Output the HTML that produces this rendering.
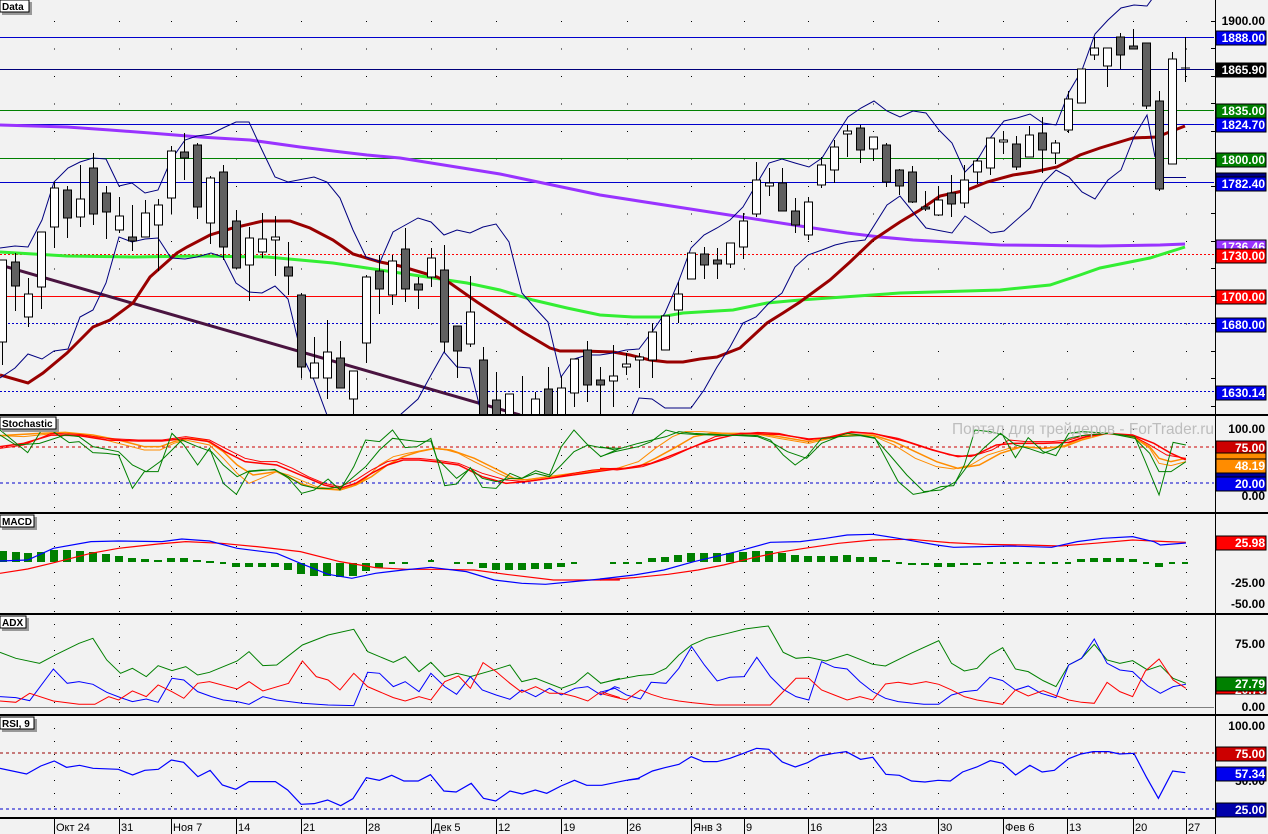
<!DOCTYPE html>
<html><head><meta charset="utf-8"><style>
html,body{margin:0;padding:0;background:#f2f2f2;}
svg{display:block;font-family:"Liberation Sans",sans-serif;}
.ns{vector-effect:non-scaling-stroke;fill:none;}
.lb{font-weight:bold;font-size:12px;fill:#fff;text-anchor:end;}
.lt{font-weight:bold;font-size:12px;fill:#000;text-anchor:end;}
.tab{font-weight:bold;font-size:10px;fill:#000;}
.dt{font-size:11px;fill:#000;}
</style></head><body>
<svg width="1268" height="834" viewBox="0 0 1268 834" xmlns="http://www.w3.org/2000/svg">
<defs>
<clipPath id="cm"><rect x="0" y="0" width="1214" height="414"/></clipPath>
<clipPath id="cs"><rect x="0" y="416" width="1214" height="96"/></clipPath>
<clipPath id="cd"><rect x="0" y="514" width="1214" height="99"/></clipPath>
<clipPath id="ca"><rect x="0" y="615" width="1214" height="97"/></clipPath>
<clipPath id="cr"><rect x="0" y="716" width="1214" height="101"/></clipPath>
</defs>
<rect width="1268" height="834" fill="#f2f2f2"/>

<g stroke="#000" stroke-width="1" stroke-dasharray="1 26.5">
<line x1="54.5" y1="-6.5" x2="54.5" y2="414"/><line x1="119.5" y1="-6.5" x2="119.5" y2="414"/><line x1="171.5" y1="-6.5" x2="171.5" y2="414"/><line x1="236.5" y1="-6.5" x2="236.5" y2="414"/><line x1="301.5" y1="-6.5" x2="301.5" y2="414"/><line x1="366.5" y1="-6.5" x2="366.5" y2="414"/><line x1="431.5" y1="-6.5" x2="431.5" y2="414"/><line x1="496.5" y1="-6.5" x2="496.5" y2="414"/><line x1="561.5" y1="-6.5" x2="561.5" y2="414"/><line x1="627.5" y1="-6.5" x2="627.5" y2="414"/><line x1="691.5" y1="-6.5" x2="691.5" y2="414"/><line x1="744.5" y1="-6.5" x2="744.5" y2="414"/><line x1="808.5" y1="-6.5" x2="808.5" y2="414"/><line x1="873.5" y1="-6.5" x2="873.5" y2="414"/><line x1="938.5" y1="-6.5" x2="938.5" y2="414"/><line x1="1003.5" y1="-6.5" x2="1003.5" y2="414"/><line x1="1067.5" y1="-6.5" x2="1067.5" y2="414"/><line x1="1133.5" y1="-6.5" x2="1133.5" y2="414"/><line x1="1186.5" y1="-6.5" x2="1186.5" y2="414"/>
</g>
<g stroke="#000" stroke-width="1" stroke-dasharray="1 12">
<line x1="54.5" y1="429" x2="54.5" y2="818"/><line x1="119.5" y1="429" x2="119.5" y2="818"/><line x1="171.5" y1="429" x2="171.5" y2="818"/><line x1="236.5" y1="429" x2="236.5" y2="818"/><line x1="301.5" y1="429" x2="301.5" y2="818"/><line x1="366.5" y1="429" x2="366.5" y2="818"/><line x1="431.5" y1="429" x2="431.5" y2="818"/><line x1="496.5" y1="429" x2="496.5" y2="818"/><line x1="561.5" y1="429" x2="561.5" y2="818"/><line x1="627.5" y1="429" x2="627.5" y2="818"/><line x1="691.5" y1="429" x2="691.5" y2="818"/><line x1="744.5" y1="429" x2="744.5" y2="818"/><line x1="808.5" y1="429" x2="808.5" y2="818"/><line x1="873.5" y1="429" x2="873.5" y2="818"/><line x1="938.5" y1="429" x2="938.5" y2="818"/><line x1="1003.5" y1="429" x2="1003.5" y2="818"/><line x1="1067.5" y1="429" x2="1067.5" y2="818"/><line x1="1133.5" y1="429" x2="1133.5" y2="818"/><line x1="1186.5" y1="429" x2="1186.5" y2="818"/>
</g>

<g clip-path="url(#cm)">
<line x1="0" y1="37.5" x2="1214" y2="37.5" stroke="#0000cc"/>
<line x1="0" y1="69.5" x2="1214" y2="69.5" stroke="#00007a"/>
<line x1="0" y1="110.5" x2="1214" y2="110.5" stroke="#008000"/>
<line x1="0" y1="124.5" x2="1214" y2="124.5" stroke="#0000cc"/>
<line x1="0" y1="158.5" x2="1214" y2="158.5" stroke="#008000"/>
<line x1="0" y1="182.5" x2="1214" y2="182.5" stroke="#0000cc"/>
<line x1="0" y1="254.5" x2="1214" y2="254.5" stroke="#ff0000" stroke-dasharray="2 2"/>
<line x1="0" y1="296.5" x2="1214" y2="296.5" stroke="#ff0000"/>
<line x1="0" y1="323.5" x2="1214" y2="323.5" stroke="#0000cc" stroke-dasharray="2 2"/>
<line x1="0" y1="391.5" x2="1214" y2="391.5" stroke="#0000cc" stroke-dasharray="2 2"/>
<line x1="1163" y1="177.5" x2="1186" y2="177.5" stroke="#000080"/>

<polyline fill="none" stroke="#9933ff" stroke-width="3" points="0,125 67,127 110,130 150,133 200,137 250,140 300,147 333,151 367,155 400,158 500,174 600,195 800,226 813,228 847,233 880,237 913,240 1000,245 1100,246 1160,245 1185,244"/>
<polyline fill="none" stroke="#33ee33" stroke-width="3" points="0,252 67,256 133,257 200,256 267,257 300,260 333,263 367,268 400,273 467,283 500,290 533,300 567,308 600,315 633,317 660,317 683,313 733,310 767,303 800,300 900,293 1000,290 1050,285 1080,275 1100,268 1150,258 1185,247"/>
<polyline fill="none" stroke="#4a1440" stroke-width="3" points="0,265 520,415"/>
<polyline fill="none" stroke="#990000" stroke-width="3" points="0,375 28,383 43,373 67,353 93,327 110,320 133,303 150,277 177,253 187,247 210,235 233,228 263,221 290,221 310,228 333,240 353,254 380,262 400,266 437,277 450,283 477,302 500,317 523,332 550,348 560,351 583,351 613,352 630,355 650,360 667,362 683,362 700,359 717,357 740,348 767,323 783,313 800,302 830,280 850,262 873,240 900,222 920,210 940,196 967,190 987,182 1013,175 1033,172 1057,167 1080,155 1100,148 1133,138 1157,137 1167,133 1185,126"/>
<polyline fill="none" stroke="#000080" stroke-width="1" points="0,248 15,246 28,247 42,220 54,182 68,168 80,162 93,158 106,159 119,186 132,183 145,193 158,190 171,160 185,140 197,136 211,134 223,128 236,122 249,122 262,150 275,177 288,182 314,177 327,182 340,198 353,230 366,257 380,262 393,232 400,228 418,218 431,222 444,235 457,230 470,233 483,227 496,224 509,242 522,293 535,308 548,322 561,377 574,359 587,355 600,355 613,353 626,350 639,349 652,332 665,313 678,283 691,248 704,235 717,228 730,220 743,207 756,185 769,163 782,159 795,163 809,167 822,158 835,137 848,117 861,108 874,101 887,111 900,117 913,111 926,113 939,130 952,143 965,172 978,159 991,137 1004,121 1017,118 1030,114 1043,123 1056,125 1069,92 1082,70 1095,34 1108,20 1121,8 1134,5 1147,6 1155,-5"/>
<polyline fill="none" stroke="#000080" stroke-width="1" points="0,378 15,368 28,354 42,359 54,351 68,349 80,317 93,310 106,283 119,237 132,242 145,239 158,238 171,258 185,259 197,257 211,253 223,257 236,283 249,292 262,293 275,286 288,299 301,353 314,380 327,415 340,440 390,440 400,415 418,399 431,375 444,352 457,367 470,368 483,420 500,450 620,450 630,420 639,398 652,399 665,408 678,408 691,408 704,390 717,367 730,347 743,323 756,317 769,303 782,293 795,267 808,255 822,250 835,245 848,242 865,240 887,205 900,196 917,217 926,228 952,233 965,216 991,233 1004,231 1030,208 1043,183 1056,170 1069,177 1082,192 1095,199 1108,180 1121,170 1134,137 1147,115 1155,157"/>

<g stroke="#000" stroke-width="1">
<line x1="2.5" y1="260" x2="2.5" y2="365"/><rect x="-1.5" y="260" width="8" height="82" fill="#fff"/>
<line x1="15.5" y1="253" x2="15.5" y2="311"/><rect x="11.5" y="262" width="8" height="24" fill="#606060"/>
<line x1="28.5" y1="278" x2="28.5" y2="327"/><rect x="24.5" y="294" width="8" height="23" fill="#fff"/>
<line x1="41.5" y1="232" x2="41.5" y2="309"/><rect x="37.5" y="232" width="8" height="55" fill="#fff"/>
<line x1="54.5" y1="182" x2="54.5" y2="248"/><rect x="50.5" y="188" width="8" height="39" fill="#fff"/>
<line x1="67.5" y1="186" x2="67.5" y2="238"/><rect x="63.5" y="190" width="8" height="28" fill="#606060"/>
<line x1="80.5" y1="165" x2="80.5" y2="227"/><rect x="76.5" y="199" width="8" height="18" fill="#fff"/>
<line x1="93.5" y1="153" x2="93.5" y2="225"/><rect x="89.5" y="168" width="8" height="46" fill="#606060"/>
<line x1="106.5" y1="186" x2="106.5" y2="239"/><rect x="102.5" y="193" width="8" height="19" fill="#606060"/>
<line x1="119.5" y1="197" x2="119.5" y2="233"/><rect x="115.5" y="216" width="8" height="14" fill="#fff"/>
<line x1="132.5" y1="205" x2="132.5" y2="251"/><rect x="128.5" y="237" width="8" height="4" fill="#606060"/>
<line x1="145.5" y1="200" x2="145.5" y2="237"/><rect x="141.5" y="213" width="8" height="24" fill="#fff"/>
<line x1="158.5" y1="199" x2="158.5" y2="271"/><rect x="154.5" y="205" width="8" height="20" fill="#fff"/>
<line x1="171.5" y1="146" x2="171.5" y2="214"/><rect x="167.5" y="151" width="8" height="47" fill="#fff"/>
<line x1="184.5" y1="133" x2="184.5" y2="180"/><rect x="180.5" y="152" width="8" height="6" fill="#606060"/>
<line x1="197.5" y1="143" x2="197.5" y2="219"/><rect x="193.5" y="145" width="8" height="62" fill="#606060"/>
<line x1="210.5" y1="176" x2="210.5" y2="244"/><rect x="206.5" y="178" width="8" height="45" fill="#fff"/>
<line x1="223.5" y1="165" x2="223.5" y2="260"/><rect x="219.5" y="172" width="8" height="75" fill="#606060"/>
<line x1="236.5" y1="210" x2="236.5" y2="268"/><rect x="232.5" y="221" width="8" height="47" fill="#606060"/>
<line x1="249.5" y1="227" x2="249.5" y2="301"/><rect x="245.5" y="238" width="8" height="27" fill="#fff"/>
<line x1="262.5" y1="213" x2="262.5" y2="258"/><rect x="258.5" y="239" width="8" height="13" fill="#fff"/>
<line x1="275.5" y1="216" x2="275.5" y2="276"/><rect x="271.5" y="237" width="8" height="3" fill="#fff"/>
<line x1="288.5" y1="242" x2="288.5" y2="295"/><rect x="284.5" y="267" width="8" height="9" fill="#606060"/>
<line x1="301.5" y1="293" x2="301.5" y2="378"/><rect x="297.5" y="295" width="8" height="72" fill="#606060"/>
<line x1="314.5" y1="337" x2="314.5" y2="378"/><rect x="310.5" y="363" width="8" height="15" fill="#fff"/>
<line x1="327.5" y1="320" x2="327.5" y2="399"/><rect x="323.5" y="352" width="8" height="26" fill="#fff"/>
<line x1="340.5" y1="341" x2="340.5" y2="388"/><rect x="336.5" y="358" width="8" height="30" fill="#606060"/>
<line x1="353.5" y1="371" x2="353.5" y2="415"/><rect x="349.5" y="371" width="8" height="28" fill="#fff"/>
<line x1="366.5" y1="275" x2="366.5" y2="363"/><rect x="362.5" y="277" width="8" height="66" fill="#fff"/>
<line x1="379.5" y1="255" x2="379.5" y2="314"/><rect x="375.5" y="271" width="8" height="18" fill="#606060"/>
<line x1="392.5" y1="255" x2="392.5" y2="305"/><rect x="388.5" y="261" width="8" height="34" fill="#fff"/>
<line x1="405.5" y1="228" x2="405.5" y2="302"/><rect x="401.5" y="249" width="8" height="40" fill="#606060"/>
<line x1="418.5" y1="277" x2="418.5" y2="309"/><rect x="414.5" y="284" width="8" height="6" fill="#606060"/>
<line x1="431.5" y1="248" x2="431.5" y2="287"/><rect x="427.5" y="258" width="8" height="19" fill="#fff"/>
<line x1="444.5" y1="245" x2="444.5" y2="352"/><rect x="440.5" y="270" width="8" height="72" fill="#606060"/>
<line x1="457.5" y1="326" x2="457.5" y2="378"/><rect x="453.5" y="326" width="8" height="25" fill="#606060"/>
<line x1="470.5" y1="276" x2="470.5" y2="347"/><rect x="466.5" y="312" width="8" height="32" fill="#fff"/>
<line x1="483.5" y1="347" x2="483.5" y2="420"/><rect x="479.5" y="360" width="8" height="60" fill="#606060"/>
<line x1="496.5" y1="372" x2="496.5" y2="420"/><rect x="492.5" y="400" width="8" height="20" fill="#606060"/>
<line x1="509.5" y1="394" x2="509.5" y2="420"/><rect x="505.5" y="394" width="8" height="26" fill="#fff"/>
<line x1="522.5" y1="376" x2="522.5" y2="420"/>
<line x1="535.5" y1="392" x2="535.5" y2="420"/><rect x="531.5" y="399" width="8" height="21" fill="#fff"/>
<line x1="548.5" y1="367" x2="548.5" y2="420"/><rect x="544.5" y="389" width="8" height="31" fill="#606060"/>
<line x1="561.5" y1="376" x2="561.5" y2="420"/><rect x="557.5" y="388" width="8" height="32" fill="#fff"/>
<line x1="574.5" y1="359" x2="574.5" y2="407"/><rect x="570.5" y="359" width="8" height="34" fill="#fff"/>
<line x1="587.5" y1="341" x2="587.5" y2="402"/><rect x="583.5" y="350" width="8" height="35" fill="#606060"/>
<line x1="600.5" y1="367" x2="600.5" y2="417"/><rect x="596.5" y="380" width="8" height="5" fill="#606060"/>
<line x1="613.5" y1="345" x2="613.5" y2="407"/><rect x="609.5" y="376" width="8" height="5" fill="#fff"/>
<line x1="626.5" y1="353" x2="626.5" y2="375"/><rect x="622.5" y="364" width="8" height="3" fill="#fff"/>
<line x1="639.5" y1="353" x2="639.5" y2="388"/><rect x="635.5" y="357" width="8" height="3" fill="#fff"/>
<line x1="652.5" y1="323" x2="652.5" y2="378"/><rect x="648.5" y="332" width="8" height="28" fill="#fff"/>
<line x1="665.5" y1="316" x2="665.5" y2="350"/><rect x="661.5" y="316" width="8" height="34" fill="#fff"/>
<line x1="678.5" y1="282" x2="678.5" y2="323"/><rect x="674.5" y="294" width="8" height="16" fill="#fff"/>
<line x1="691.5" y1="253" x2="691.5" y2="279"/><rect x="687.5" y="253" width="8" height="26" fill="#fff"/>
<line x1="704.5" y1="247" x2="704.5" y2="279"/><rect x="700.5" y="254" width="8" height="11" fill="#606060"/>
<line x1="717.5" y1="248" x2="717.5" y2="279"/><rect x="713.5" y="260" width="8" height="4" fill="#606060"/>
<line x1="730.5" y1="243" x2="730.5" y2="268"/><rect x="726.5" y="243" width="8" height="21" fill="#fff"/>
<line x1="743.5" y1="213" x2="743.5" y2="259"/><rect x="739.5" y="221" width="8" height="26" fill="#fff"/>
<line x1="756.5" y1="162" x2="756.5" y2="217"/><rect x="752.5" y="180" width="8" height="34" fill="#fff"/>
<line x1="769.5" y1="168" x2="769.5" y2="196"/><rect x="765.5" y="183" width="8" height="3" fill="#fff"/>
<line x1="782.5" y1="168" x2="782.5" y2="211"/><rect x="778.5" y="183" width="8" height="28" fill="#606060"/>
<line x1="795.5" y1="198" x2="795.5" y2="233"/><rect x="791.5" y="211" width="8" height="14" fill="#606060"/>
<line x1="808.5" y1="197" x2="808.5" y2="240"/><rect x="804.5" y="202" width="8" height="33" fill="#fff"/>
<line x1="821.5" y1="157" x2="821.5" y2="188"/><rect x="817.5" y="165" width="8" height="20" fill="#fff"/>
<line x1="834.5" y1="140" x2="834.5" y2="183"/><rect x="830.5" y="147" width="8" height="23" fill="#fff"/>
<line x1="847.5" y1="125" x2="847.5" y2="157"/><rect x="843.5" y="131" width="8" height="3" fill="#fff"/>
<line x1="860.5" y1="125" x2="860.5" y2="163"/><rect x="856.5" y="128" width="8" height="22" fill="#606060"/>
<line x1="873.5" y1="137" x2="873.5" y2="161"/><rect x="869.5" y="137" width="8" height="12" fill="#fff"/>
<line x1="886.5" y1="143" x2="886.5" y2="187"/><rect x="882.5" y="145" width="8" height="37" fill="#606060"/>
<line x1="899.5" y1="169" x2="899.5" y2="195"/><rect x="895.5" y="170" width="8" height="16" fill="#606060"/>
<line x1="912.5" y1="166" x2="912.5" y2="203"/><rect x="908.5" y="172" width="8" height="30" fill="#606060"/>
<line x1="925.5" y1="191" x2="925.5" y2="211"/><rect x="921.5" y="207" width="8" height="2" fill="#606060"/>
<line x1="938.5" y1="186" x2="938.5" y2="216"/><rect x="934.5" y="200" width="8" height="15" fill="#fff"/>
<line x1="951.5" y1="175" x2="951.5" y2="217"/><rect x="947.5" y="193" width="8" height="11" fill="#606060"/>
<line x1="964.5" y1="165" x2="964.5" y2="208"/><rect x="960.5" y="180" width="8" height="23" fill="#fff"/>
<line x1="977.5" y1="158" x2="977.5" y2="184"/><rect x="973.5" y="161" width="8" height="11" fill="#fff"/>
<line x1="990.5" y1="138" x2="990.5" y2="175"/><rect x="986.5" y="138" width="8" height="30" fill="#fff"/>
<line x1="1003.5" y1="131" x2="1003.5" y2="154"/><rect x="999.5" y="140" width="8" height="2" fill="#fff"/>
<line x1="1016.5" y1="136" x2="1016.5" y2="170"/><rect x="1012.5" y="144" width="8" height="23" fill="#606060"/>
<line x1="1029.5" y1="126" x2="1029.5" y2="157"/><rect x="1025.5" y="135" width="8" height="22" fill="#fff"/>
<line x1="1042.5" y1="117" x2="1042.5" y2="173"/><rect x="1038.5" y="133" width="8" height="17" fill="#606060"/>
<line x1="1055.5" y1="140" x2="1055.5" y2="164"/><rect x="1051.5" y="143" width="8" height="10" fill="#fff"/>
<line x1="1068.5" y1="91" x2="1068.5" y2="133"/><rect x="1064.5" y="99" width="8" height="31" fill="#fff"/>
<line x1="1081.5" y1="69" x2="1081.5" y2="103"/><rect x="1077.5" y="69" width="8" height="34" fill="#fff"/>
<line x1="1094.5" y1="37" x2="1094.5" y2="60"/><rect x="1090.5" y="48" width="8" height="7" fill="#fff"/>
<line x1="1107.5" y1="48" x2="1107.5" y2="87"/><rect x="1103.5" y="48" width="8" height="18" fill="#fff"/>
<line x1="1120.5" y1="33" x2="1120.5" y2="69"/><rect x="1116.5" y="37" width="8" height="18" fill="#606060"/>
<line x1="1133.5" y1="29" x2="1133.5" y2="49"/><rect x="1129.5" y="46" width="8" height="3" fill="#606060"/>
<line x1="1146.5" y1="43" x2="1146.5" y2="109"/><rect x="1142.5" y="43" width="8" height="63" fill="#606060"/>
<line x1="1159.5" y1="91" x2="1159.5" y2="191"/><rect x="1155.5" y="101" width="8" height="88" fill="#606060"/>
<line x1="1172.5" y1="52" x2="1172.5" y2="164"/><rect x="1168.5" y="59" width="8" height="105" fill="#fff"/>
<line x1="1185.5" y1="37" x2="1185.5" y2="82"/><line x1="1181" y1="68" x2="1190" y2="68"/>
</g>
</g>

<g clip-path="url(#cs)">
<line x1="0" y1="447" x2="1214" y2="447" stroke="#cc0000" stroke-dasharray="3 3"/>
<line x1="0" y1="483" x2="1214" y2="483" stroke="#0000cc" stroke-dasharray="3 3"/>
<g transform="translate(0,415) scale(0.3953 0.3333)">
<polyline class="ns" stroke="#ff8c00" stroke-width="1" points="0,62 60,65 165,52 235,65 300,85 365,105 405,105 440,85 470,75 530,90 565,130 600,175 630,205 670,185 700,170 730,180 770,200 800,215 860,225 890,215 925,190 960,150 995,125 1030,115 1095,100 1130,105 1160,115 1200,140 1260,175 1290,190 1325,195 1390,185 1450,175 1500,165 1568,160"/>
<polyline class="ns" stroke="#ff8c00" stroke-width="1.5" points="0,62 100,55 165,52 235,60 300,75 365,95 405,95 440,80 475,70 520,75 565,110 600,150 640,180 700,170 760,205 800,220 860,225 900,210 940,185 980,150 1020,125 1060,110 1100,100 1140,105 1200,130 1260,165 1300,190 1330,195 1390,185 1450,175 1568,160"/>
<polyline class="ns" stroke="#ff0000" stroke-width="1" points="0,100 60,90 130,55 200,58 270,70 350,75 410,75 470,65 530,75 570,100 620,130 660,140 700,140 740,160 780,185 820,205 860,215 900,195 940,165 980,140 1020,130 1060,130 1100,135 1160,145 1220,175 1280,195 1330,200 1390,190 1450,175 1500,165 1568,160"/>
<polyline class="ns" stroke="#ff0000" stroke-width="1.5" points="0,95 60,85 130,60 200,62 270,75 350,78 410,78 470,70 530,80 570,110 620,140 700,150 760,180 820,210 860,220 900,205 940,175 980,150 1020,135 1060,135 1100,140 1160,150 1220,185 1280,205 1330,200 1568,160"/>
<polyline class="ns" stroke="#008000" stroke-width="1" points="0,60 40,90 100,85 165,60 200,65 235,95 300,110 335,150 370,170 405,140 435,105 460,75 500,95 535,110 565,150 600,185 630,168 660,165 695,165 730,185 763,210 800,220 830,220 865,215 895,185 925,155 960,105 993,70 1025,75 1060,80 1090,78 1105,130 1155,190 1190,160 1220,190 1255,200 1290,190 1320,190 1355,175 1390,185 1420,150 1452,110 1487,90 1520,98 1568,100"/>
<polyline class="ns" stroke="#008000" stroke-width="1" points="0,45 70,113 105,45 135,50 175,83 200,80 235,113 270,115 300,120 335,220 365,170 400,170 435,55 465,90 500,150 530,100 565,205 598,238 630,170 695,163 730,190 763,235 795,225 830,192 860,225 895,155 925,75 960,80 993,45 1025,98 1055,95 1090,70 1125,212 1155,207 1190,158 1220,217 1255,220 1290,175 1320,190 1355,167 1390,180 1420,95 1452,45 1487,90 1520,125 1568,100"/>
</g>
<g transform="translate(600,415) scale(0.4261 0.3333)">
<polyline class="ns" stroke="#ff8c00" stroke-width="1" points="0,165 40,160 90,140 130,100 170,65 200,50 240,50 300,55 370,58 420,70 490,85 540,70 580,60 640,62 690,90 740,130 790,155 830,162 870,150 910,120 960,100 1000,95 1040,100 1090,92 1130,70 1190,55 1250,65 1290,100 1312,145 1340,152 1375,140"/>
<polyline class="ns" stroke="#ff8c00" stroke-width="1.5" points="0,160 40,162 90,155 130,130 180,95 220,65 260,55 300,55 370,55 420,65 490,80 540,68 590,60 640,60 690,80 740,110 790,140 840,160 890,150 940,115 990,95 1040,100 1090,95 1130,75 1190,55 1250,65 1290,95 1312,130 1340,140 1375,130"/>
<polyline class="ns" stroke="#ff0000" stroke-width="1" points="0,160 40,165 100,155 160,130 220,95 270,65 300,60 370,52 420,55 490,75 540,65 590,50 640,55 700,70 760,95 820,120 870,125 920,105 960,75 1000,80 1060,80 1100,75 1140,60 1190,55 1250,62 1290,90 1330,120 1375,130"/>
<polyline class="ns" stroke="#ff0000" stroke-width="1.5" points="0,162 60,160 120,145 180,115 240,85 280,70 330,55 420,58 490,72 540,68 590,52 640,55 720,80 780,105 840,125 880,120 930,90 970,85 1040,85 1100,82 1140,65 1190,55 1250,60 1300,85 1340,115 1375,135"/>
<polyline class="ns" stroke="#008000" stroke-width="1" points="0,95 35,105 90,85 155,65 185,50 220,55 300,60 370,65 400,80 440,110 485,130 520,85 560,65 610,62 645,70 680,120 720,180 760,230 800,225 835,200 870,140 900,100 940,55 975,90 1005,100 1040,115 1070,100 1100,70 1130,62 1195,55 1255,70 1290,115 1312,170 1340,170 1375,140"/>
<polyline class="ns" stroke="#008000" stroke-width="1" points="0,125 35,110 90,95 120,80 155,45 185,55 220,58 260,60 300,62 335,60 370,62 400,75 430,120 458,150 485,125 520,70 550,68 580,55 610,60 645,68 700,200 735,238 770,230 800,215 830,212 855,150 880,45 915,50 945,60 975,128 1005,68 1040,110 1070,122 1100,55 1130,50 1160,52 1195,55 1225,60 1255,65 1280,140 1312,240 1345,82 1375,90"/>
</g>
</g>
<text x="952" y="434" font-size="16" fill="#bdbdbd" textLength="262" lengthAdjust="spacingAndGlyphs" font-family="Liberation Sans, sans-serif">Портал для трейдеров - ForTrader.ru</text>

<g clip-path="url(#cd)">
<g fill="#008000">
<rect x="-1" y="551" width="8" height="11"/><rect x="12" y="552" width="8" height="10"/><rect x="24" y="553" width="8" height="9"/><rect x="37" y="552" width="8" height="10"/><rect x="50" y="550" width="8" height="12"/><rect x="63" y="550" width="8" height="12"/><rect x="76" y="551" width="8" height="11"/><rect x="89" y="552" width="8" height="10"/><rect x="102" y="554" width="8" height="8"/><rect x="115" y="556" width="8" height="6"/><rect x="128" y="558" width="8" height="4"/><rect x="141" y="559" width="8" height="3"/><rect x="154" y="560" width="8" height="2"/><rect x="167" y="558" width="8" height="4"/><rect x="180" y="558" width="8" height="4"/><rect x="193" y="560" width="8" height="2"/><rect x="206" y="561" width="8" height="2"/><rect x="220" y="562" width="6" height="2"/>
<rect x="232" y="563" width="8" height="4"/><rect x="245" y="563" width="8" height="4"/><rect x="258" y="563" width="8" height="4"/><rect x="271" y="563" width="8" height="4"/><rect x="284" y="563" width="8" height="7"/><rect x="297" y="563" width="8" height="11"/><rect x="310" y="563" width="8" height="13"/><rect x="323" y="563" width="8" height="13"/><rect x="336" y="563" width="8" height="14"/><rect x="349" y="563" width="8" height="13"/><rect x="362" y="563" width="8" height="8"/><rect x="375" y="563" width="8" height="5"/>
<rect x="389" y="562" width="6" height="2"/><rect x="402" y="562" width="6" height="2"/><rect x="428" y="560" width="6" height="2"/><rect x="454" y="562" width="6" height="2"/><rect x="467" y="562" width="6" height="2"/>
<rect x="479" y="563" width="8" height="5"/><rect x="492" y="563" width="8" height="7"/><rect x="505" y="563" width="8" height="7"/><rect x="518" y="563" width="8" height="7"/><rect x="531" y="563" width="8" height="6"/><rect x="544" y="563" width="8" height="6"/><rect x="557" y="563" width="8" height="4"/>
<rect x="571" y="562" width="6" height="2"/><rect x="610" y="562" width="6" height="2"/><rect x="623" y="562" width="6" height="2"/><rect x="636" y="562" width="6" height="2"/>
<rect x="648" y="558" width="8" height="4"/><rect x="661" y="557" width="8" height="5"/><rect x="674" y="555" width="8" height="7"/><rect x="687" y="553" width="8" height="9"/><rect x="700" y="553" width="8" height="9"/><rect x="713" y="553" width="8" height="9"/><rect x="726" y="553" width="8" height="9"/><rect x="739" y="552" width="8" height="10"/><rect x="752" y="551" width="8" height="11"/><rect x="765" y="551" width="8" height="11"/><rect x="778" y="553" width="8" height="9"/><rect x="791" y="555" width="8" height="7"/><rect x="804" y="556" width="8" height="6"/><rect x="817" y="556" width="8" height="6"/><rect x="830" y="556" width="8" height="6"/><rect x="843" y="555" width="8" height="7"/><rect x="856" y="557" width="8" height="5"/><rect x="869" y="557" width="8" height="5"/><rect x="882" y="560" width="8" height="2"/>
<rect x="896" y="562" width="6" height="2"/><rect x="908" y="563" width="8" height="2"/><rect x="921" y="563" width="8" height="2"/><rect x="934" y="563" width="8" height="4"/><rect x="947" y="563" width="8" height="4"/><rect x="960" y="563" width="8" height="2"/><rect x="973" y="563" width="8" height="2"/>
<rect x="987" y="562" width="6" height="2"/><rect x="1000" y="562" width="6" height="2"/><rect x="1013" y="562" width="6" height="2"/><rect x="1026" y="562" width="6" height="2"/><rect x="1039" y="562" width="6" height="2"/><rect x="1052" y="562" width="6" height="2"/><rect x="1065" y="562" width="6" height="2"/>
<rect x="1077" y="559" width="8" height="3"/><rect x="1090" y="558" width="8" height="4"/><rect x="1103" y="558" width="8" height="4"/><rect x="1116" y="558" width="8" height="4"/><rect x="1129" y="559" width="8" height="3"/><rect x="1143" y="562" width="6" height="2"/><rect x="1155" y="563" width="8" height="4"/><rect x="1169" y="562" width="6" height="2"/><rect x="1182" y="562" width="6" height="2"/>
</g>
<g transform="translate(0,415) scale(0.3953 0.3333)">
<polyline class="ns" stroke="#ff0000" stroke-width="1.2" points="0,475 70,462 130,445 230,415 300,400 400,387 470,380 560,385 650,395 760,410 860,440 950,458 1030,463 1110,463 1200,465 1280,478 1400,495 1568,495"/>
<polyline class="ns" stroke="#0000ff" stroke-width="1.2" points="0,438 70,435 135,400 230,380 300,378 410,380 460,372 530,378 600,400 700,415 760,445 830,478 890,490 950,475 1020,465 1090,457 1180,470 1250,495 1320,505 1380,508 1450,500 1520,492 1568,492"/>
</g>
<g transform="translate(600,415) scale(0.4261 0.3333)">
<polyline class="ns" stroke="#ff0000" stroke-width="1.2" points="0,495 80,488 160,478 230,465 290,450 360,428 420,412 480,400 560,385 640,375 730,373 820,383 900,388 1000,390 1080,393 1160,385 1250,375 1330,380 1375,382"/>
<polyline class="ns" stroke="#0000ff" stroke-width="1.2" points="0,492 80,480 150,465 220,440 280,422 320,410 400,382 470,380 530,370 580,360 640,358 700,370 790,390 830,397 900,395 960,393 1060,397 1120,380 1180,370 1250,365 1300,380 1315,390 1375,384"/>
</g>
</g>

<g clip-path="url(#ca)">
<line x1="0" y1="707.5" x2="1214" y2="707.5" stroke="#808080"/>
<g transform="translate(0,415) scale(0.3953 0.3333)">
<polyline class="ns" stroke="#008000" stroke-width="1" points="0,712 40,730 100,745 140,720 200,685 235,670 270,735 305,775 335,760 370,785 400,752 435,767 470,755 500,780 530,772 600,738 630,710 665,752 700,750 765,690 830,660 895,643 930,710 995,742 1025,725 1060,770 1090,742 1125,785 1155,775 1190,785 1255,763 1290,750 1320,800 1355,790 1420,820 1455,805 1487,773 1520,805 1568,790"/>
<polyline class="ns" stroke="#0000ff" stroke-width="1" points="0,845 40,848 75,857 135,762 170,805 200,800 235,808 270,832 305,848 335,860 370,852 400,862 435,790 465,795 500,830 535,845 565,855 600,860 630,868 665,845 700,855 765,865 830,870 895,872 930,772 960,775 995,815 1025,800 1060,830 1090,775 1125,815 1155,838 1190,785 1220,825 1255,840 1290,853 1320,825 1355,845 1390,820 1420,840 1455,820 1487,815 1520,840 1555,815 1568,820"/>
<polyline class="ns" stroke="#ff0000" stroke-width="1" points="0,858 40,862 75,835 135,858 200,868 240,868 275,845 300,855 335,828 370,845 400,810 435,830 465,850 500,805 530,800 600,822 630,800 665,828 730,805 765,738 800,785 830,795 860,825 895,775 930,815 995,848 1025,858 1060,845 1090,855 1125,800 1160,783 1190,820 1222,743 1255,770 1290,805 1320,832 1355,815 1390,835 1420,835 1455,845 1487,858 1520,830 1568,848"/>
</g>
<g transform="translate(600,415) scale(0.4261 0.3333)">
<polyline class="ns" stroke="#008000" stroke-width="1" points="0,805 35,795 90,782 125,778 155,760 185,720 215,690 250,670 300,655 340,642 395,633 430,712 460,730 490,727 530,738 580,718 640,748 670,753 730,715 795,677 825,745 855,768 885,760 915,720 945,698 975,762 1005,770 1040,797 1070,815 1100,750 1130,730 1160,688 1190,735 1220,745 1250,737 1285,765 1315,752 1345,790 1375,805"/>
<polyline class="ns" stroke="#0000ff" stroke-width="1" points="0,832 35,820 62,840 95,852 120,802 155,805 185,760 215,695 245,750 275,798 305,787 338,785 368,727 400,785 430,823 460,845 490,855 520,740 550,757 580,762 610,800 640,830 670,850 700,860 760,868 795,868 825,840 855,830 885,826 915,787 945,797 975,825 1005,813 1035,835 1070,848 1100,750 1130,730 1160,672 1190,745 1220,765 1250,770 1285,812 1315,835 1345,815 1375,808"/>
<polyline class="ns" stroke="#ff0000" stroke-width="1" points="0,835 30,845 62,855 95,825 120,838 150,850 185,858 215,863 270,870 400,870 430,830 460,790 490,790 520,825 550,840 580,855 610,845 640,855 670,807 700,802 730,808 765,800 795,808 825,825 855,845 885,855 945,868 975,825 1005,843 1040,827 1070,842 1100,855 1130,862 1160,865 1190,802 1220,830 1250,845 1280,768 1312,732 1345,795 1375,820"/>
</g>
</g>

<g clip-path="url(#cr)">
<line x1="0" y1="753" x2="1214" y2="753" stroke="#990000" stroke-dasharray="3 3"/>
<line x1="0" y1="809" x2="1214" y2="809" stroke="#0000cc" stroke-dasharray="3 3"/>
<g transform="translate(0,700) scale(0.408 0.3333)">
<polyline class="ns" stroke="#0000ff" stroke-width="1.2" points="0,205 65,222 100,198 133,183 163,202 195,196 228,205 290,208 325,225 355,211 388,208 420,180 450,187 485,230 515,211 545,255 578,268 610,245 675,245 705,270 738,313 770,311 803,300 835,317 865,296 898,233 930,241 960,226 990,243 1025,243 1055,224 1088,273 1118,276 1155,250 1185,295 1215,303 1250,273 1280,282 1312,270 1340,280 1375,258 1408,241 1438,256 1475,256 1535,241 1568,236"/>
</g>
<g transform="translate(628,700) scale(0.408 0.3333)">
<polyline class="ns" stroke="#0000ff" stroke-width="1.2" points="0,240 25,235 60,213 90,203 125,193 155,170 185,185 218,185 250,175 283,160 315,145 345,148 378,186 410,201 440,188 470,168 505,160 535,155 570,178 600,172 632,223 665,226 695,243 728,246 760,241 790,243 820,216 855,201 888,182 918,190 950,225 985,196 1015,216 1045,211 1080,176 1110,162 1140,155 1178,155 1205,162 1240,160 1270,230 1300,295 1335,213 1366,218"/>
</g>
</g>

<g fill="#000">
<rect x="0" y="414" width="1268" height="2"/>
<rect x="0" y="512" width="1268" height="2"/>
<rect x="0" y="613" width="1268" height="2"/>
<rect x="0" y="714" width="1268" height="2"/>
<rect x="0" y="817" width="1215" height="2"/>
<rect x="1215" y="0" width="1" height="834"/>
</g>

<g stroke="#000">
<line x1="1211" y1="21.5" x2="1215" y2="21.5"/><line x1="1211" y1="48.5" x2="1215" y2="48.5"/><line x1="1211" y1="76.5" x2="1215" y2="76.5"/><line x1="1211" y1="103.5" x2="1215" y2="103.5"/><line x1="1211" y1="131.5" x2="1215" y2="131.5"/><line x1="1211" y1="158.5" x2="1215" y2="158.5"/><line x1="1211" y1="186.5" x2="1215" y2="186.5"/><line x1="1211" y1="213.5" x2="1215" y2="213.5"/><line x1="1211" y1="241.5" x2="1215" y2="241.5"/><line x1="1211" y1="268.5" x2="1215" y2="268.5"/><line x1="1211" y1="296.5" x2="1215" y2="296.5"/><line x1="1211" y1="323.5" x2="1215" y2="323.5"/><line x1="1211" y1="351.5" x2="1215" y2="351.5"/><line x1="1211" y1="378.5" x2="1215" y2="378.5"/><line x1="1211" y1="406.5" x2="1215" y2="406.5"/>
</g>

<text class="lt" x="1265" y="25">1900.00</text>
<rect x="1216" y="31" width="50" height="14" fill="#0000ee" stroke="#000"/><text class="lb" x="1265" y="42">1888.00</text>
<rect x="1216" y="63" width="50" height="14" fill="#000" stroke="#000"/><text class="lb" x="1265" y="74">1865.90</text>
<rect x="1216" y="104" width="50" height="14" fill="#008000" stroke="#000"/><text class="lb" x="1265" y="115">1835.00</text>
<rect x="1216" y="118" width="50" height="14" fill="#0000ee" stroke="#000"/><text class="lb" x="1265" y="129">1824.70</text>
<rect x="1216" y="153" width="50" height="14" fill="#008000" stroke="#000"/><text class="lb" x="1265" y="164">1800.00</text>
<rect x="1216" y="173" width="50" height="13" fill="#000080" stroke="#000"/>
<rect x="1216" y="177" width="50" height="14" fill="#0000ee" stroke="#000"/><text class="lb" x="1265" y="188">1782.40</text>
<rect x="1216" y="240" width="50" height="13" fill="#9933ff" stroke="#000"/><text class="lb" x="1265" y="251">1736.46</text>
<rect x="1216" y="249" width="50" height="14" fill="#ff0000" stroke="#000"/><text class="lb" x="1265" y="260">1730.00</text>
<rect x="1216" y="290" width="50" height="14" fill="#ff0000" stroke="#000"/><text class="lb" x="1265" y="301">1700.00</text>
<rect x="1216" y="318" width="50" height="14" fill="#0000ee" stroke="#000"/><text class="lb" x="1265" y="329">1680.00</text>
<rect x="1216" y="386" width="50" height="14" fill="#0000ee" stroke="#000"/><text class="lb" x="1265" y="397">1630.14</text>

<text class="lt" x="1265" y="433">100.00</text>
<rect x="1216" y="441" width="50" height="14" fill="#cc0000" stroke="#000"/><text class="lb" x="1265" y="452">75.00</text>
<rect x="1216" y="453" width="50" height="8" fill="#ff8c00" stroke="#000"/>
<rect x="1216" y="459" width="50" height="14" fill="#ff8c00" stroke="#000"/><text class="lb" x="1265" y="470">48.19</text>
<rect x="1216" y="473" width="50" height="6" fill="#000099" stroke="#000"/>
<rect x="1216" y="477" width="50" height="14" fill="#0000ee" stroke="#000"/><text class="lb" x="1265" y="488">20.00</text>
<text class="lt" x="1265" y="500">0.00</text>

<rect x="1216" y="536" width="50" height="14" fill="#ff0000" stroke="#000"/><text class="lb" x="1265" y="547">25.98</text>
<text class="lt" x="1265" y="587">-25.00</text>
<text class="lt" x="1265" y="608">-50.00</text>

<text class="lt" x="1265" y="648">75.00</text>
<rect x="1216" y="684" width="50" height="10" fill="#ff0000" stroke="#000"/><text class="lb" x="1265" y="694">20.70</text>
<rect x="1216" y="677" width="50" height="14" fill="#008000" stroke="#000"/><text class="lb" x="1265" y="688">27.79</text>
<text class="lt" x="1265" y="711">0.00</text>

<text class="lt" x="1265" y="730">100.00</text>
<rect x="1216" y="747" width="50" height="14" fill="#cc0000" stroke="#000"/><text class="lb" x="1265" y="758">75.00</text>
<text class="lt" x="1265" y="785">50.00</text>
<rect x="1216" y="767" width="50" height="14" fill="#0000ee" stroke="#000"/><text class="lb" x="1265" y="778">57.34</text>
<rect x="1216" y="803" width="50" height="14" fill="#0000aa" stroke="#000"/><text class="lb" x="1265" y="814">25.00</text>

<g>
<rect x="2" y="2" width="30" height="13" fill="#999"/><rect x="0" y="0" width="29" height="12" fill="#fff" stroke="#000"/><text class="tab" x="2" y="10">Data</text>
<rect x="2" y="419" width="57" height="13" fill="#999"/><rect x="0" y="417" width="56" height="12" fill="#fff" stroke="#000"/><text class="tab" x="2" y="427">Stochastic</text>
<rect x="2" y="517" width="35" height="13" fill="#999"/><rect x="0" y="515" width="34" height="12" fill="#fff" stroke="#000"/><text class="tab" x="2" y="525">MACD</text>
<rect x="2" y="618" width="27" height="13" fill="#999"/><rect x="0" y="616" width="26" height="12" fill="#fff" stroke="#000"/><text class="tab" x="2" y="626">ADX</text>
<rect x="2" y="719" width="35" height="13" fill="#999"/><rect x="0" y="717" width="34" height="12" fill="#fff" stroke="#000"/><text class="tab" x="2" y="727">RSI, 9</text>
</g>

<g stroke="#000">
<line x1="54.5" y1="818" x2="54.5" y2="834"/><line x1="119.5" y1="818" x2="119.5" y2="834"/><line x1="171.5" y1="818" x2="171.5" y2="834"/><line x1="236.5" y1="818" x2="236.5" y2="834"/><line x1="301.5" y1="818" x2="301.5" y2="834"/><line x1="366.5" y1="818" x2="366.5" y2="834"/><line x1="431.5" y1="818" x2="431.5" y2="834"/><line x1="496.5" y1="818" x2="496.5" y2="834"/><line x1="561.5" y1="818" x2="561.5" y2="834"/><line x1="627.5" y1="818" x2="627.5" y2="834"/><line x1="691.5" y1="818" x2="691.5" y2="834"/><line x1="744.5" y1="818" x2="744.5" y2="834"/><line x1="808.5" y1="818" x2="808.5" y2="834"/><line x1="873.5" y1="818" x2="873.5" y2="834"/><line x1="938.5" y1="818" x2="938.5" y2="834"/><line x1="1003.5" y1="818" x2="1003.5" y2="834"/><line x1="1067.5" y1="818" x2="1067.5" y2="834"/><line x1="1133.5" y1="818" x2="1133.5" y2="834"/><line x1="1186.5" y1="818" x2="1186.5" y2="834"/>
</g>
<g class="dt">
<text x="56" y="831">Окт 24</text><text x="121" y="831">31</text><text x="173" y="831">Ноя 7</text><text x="238" y="831">14</text><text x="303" y="831">21</text><text x="368" y="831">28</text><text x="433" y="831">Дек 5</text><text x="498" y="831">12</text><text x="563" y="831">19</text><text x="629" y="831">26</text><text x="693" y="831">Янв 3</text><text x="746" y="831">9</text><text x="810" y="831">16</text><text x="875" y="831">23</text><text x="940" y="831">30</text><text x="1005" y="831">Фев 6</text><text x="1069" y="831">13</text><text x="1135" y="831">20</text><text x="1188" y="831">27</text>
</g>
</svg>
</body></html>
